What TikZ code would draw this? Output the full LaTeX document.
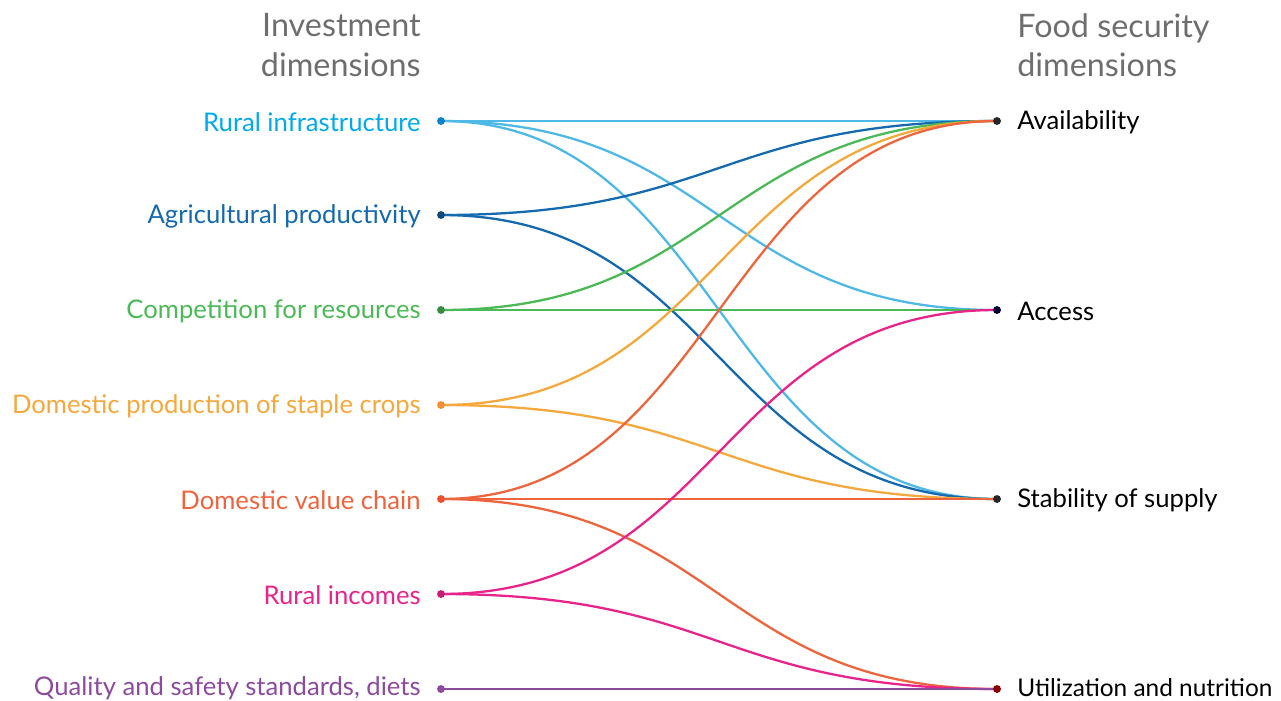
\documentclass[tikz,border=0pt]{standalone}
\usepackage{fontspec}
\setmainfont{Lato}

\definecolor{infra}{RGB}{0,170,235}
\definecolor{infraline}{RGB}{78,184,230}
\definecolor{agri}{RGB}{20,105,175}
\definecolor{compet}{RGB}{75,185,85}
\definecolor{staple}{RGB}{245,168,60}
\definecolor{chain}{RGB}{238,100,60}
\definecolor{income}{RGB}{232,35,140}
\definecolor{quality}{RGB}{140,75,160}
\definecolor{headgray}{RGB}{110,110,110}

\tikzset{
  heading/.style={text=headgray, font=\fontsize{18.4}{22.6}\selectfont, align=left, inner sep=0pt},
  invest/.style={anchor=east, font=\fontsize{14.6}{18}\selectfont, inner sep=0pt},
  food/.style={anchor=west, font=\fontsize{14.6}{18}\selectfont, inner sep=0pt},
  link/.style={line width=1.3pt},
  dot/.style={circle, fill=#1, inner sep=0pt, minimum size=4.5pt}
}

\begin{document}
\begin{tikzpicture}[x=0.02cm, y=-0.02cm]
\useasboundingbox (0,0) rectangle (1281,700);

% headings
\node[heading, anchor=north east, align=right] (hinv) at (421,13) {Investment\\dimensions};
\node[heading, anchor=north west] (hfood) at (1017,13) {Food security\\dimensions};

% end points
\coordinate (i1) at (441,121);
\coordinate (i2) at (441,215);
\coordinate (i3) at (441,310);
\coordinate (i4) at (441,405);
\coordinate (i5) at (441,499);
\coordinate (i6) at (441,594);
\coordinate (i7) at (441,689);
\coordinate (f1) at (997,121);
\coordinate (f2) at (997,310);
\coordinate (f3) at (997,499);
\coordinate (f4) at (997,689);

% links
\draw[link, infraline] (i1) -- (f1);
\draw[link, infraline] (i1) .. controls +(278,0) and +(-278,0) .. (f2);
\draw[link, infraline] (i1) .. controls +(278,0) and +(-278,0) .. (f3);
\draw[link, agri] (i2) .. controls +(278,0) and +(-278,0) .. (f1);
\draw[link, agri] (i2) .. controls +(278,0) and +(-278,0) .. (f3);
\draw[link, compet] (i3) .. controls +(278,0) and +(-278,0) .. (f1);
\draw[link, compet] (i3) -- (f2);
\draw[link, staple] (i4) .. controls +(278,0) and +(-278,0) .. (f1);
\draw[link, staple] (i4) .. controls +(278,0) and +(-278,0) .. (f3);
\draw[link, chain] (i5) .. controls +(278,0) and +(-278,0) .. (f1);
\draw[link, chain] (i5) -- (f3);
\draw[link, chain] (i5) .. controls +(278,0) and +(-278,0) .. (f4);
\draw[link, income] (i6) .. controls +(278,0) and +(-278,0) .. (f2);
\draw[link, income] (i6) .. controls +(278,0) and +(-278,0) .. (f4);
\draw[link, quality] (i7) -- (f4);

% dots
\node[dot=infra!40!agri] at (i1) {};
\node[dot=agri!70!black] at (i2) {};
\node[dot=compet!75!black] at (i3) {};
\node[dot=staple!85!red] at (i4) {};
\node[dot=chain!80!red] at (i5) {};
\node[dot=income!85!black] at (i6) {};
\node[dot=quality] at (i7) {};
\node[dot=black!85] at (f1) {};
\node[dot=black!80!blue] at (f2) {};
\node[dot=black!85] at (f3) {};
\node[dot=red!55!black] at (f4) {};

% labels
\node[invest, text=infra] (rural) at (421,122) {Rural infrastructure};
\node[invest, text=agri] (prod) at (421,216) {Agricultural productivity};
\node[invest, text=compet] (comp) at (421,311) {Competition for resources};
\node[invest, text=staple] (crops) at (421,406) {Domestic production of staple crops};
\node[invest, text=chain] (chainlbl) at (421,500) {Domestic value chain};
\node[invest, text=income] (incomes) at (421,595) {Rural incomes};
\node[invest, text=quality] (diets) at (421,688) {Quality and safety standards, diets};
\node[food] (avail) at (1017,122) {Availability};
\node[food] (access) at (1017,311) {Access};
\node[food] (stab) at (1017,500) {Stability of supply};
\node[food, font=\fontsize{13.9}{17}\selectfont] (util) at (1017,688) {Utilization and nutrition};
\end{tikzpicture}
\end{document}
